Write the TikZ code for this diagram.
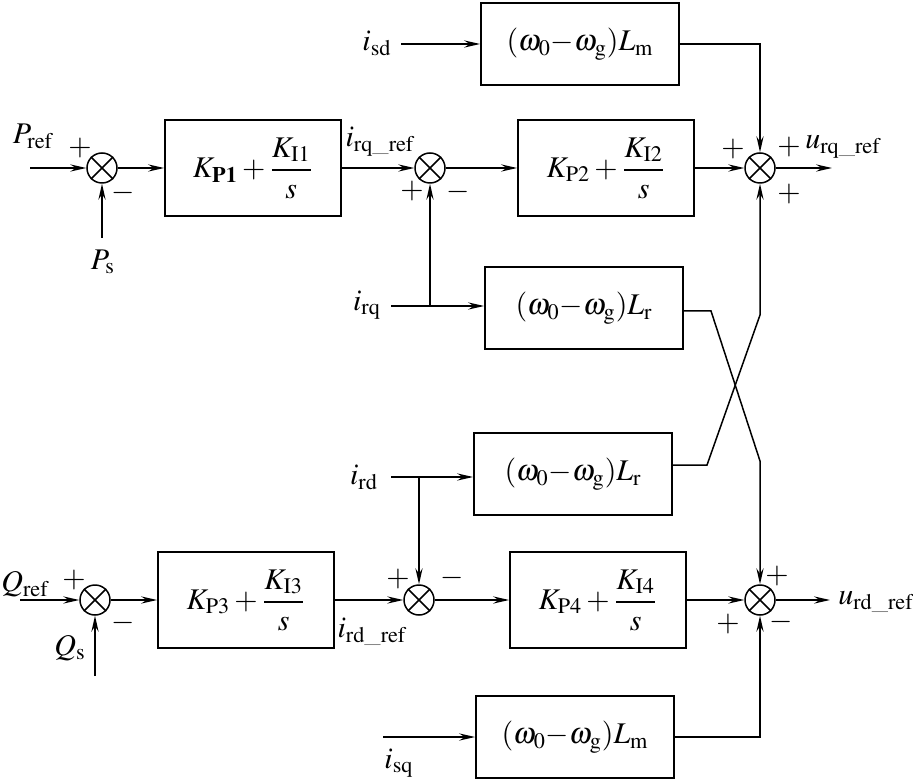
\documentclass[tikz,border=0pt]{standalone}
\usepackage{amsmath,mathptmx}
\usetikzlibrary{arrows.meta}

\begin{document}
\begin{tikzpicture}[x=0.5pt, y=0.5pt, line width=0.75pt,
    >={Stealth[length=8pt,width=3.6pt,inset=2.8pt]},
    font=\fontsize{15}{18}\selectfont,
    block/.style={draw, line width=0.9pt, minimum width=88pt, minimum height=48pt, inner sep=0pt},
    gain/.style={draw, line width=0.9pt, minimum width=99pt, minimum height=41pt, inner sep=0pt},
    sum/.style={draw, circle, minimum size=15pt, inner sep=0pt},
    sign/.style={inner sep=0pt},
    lbl/.style={inner sep=0pt}]
  \useasboundingbox (0,0) rectangle (913,782);

  % summing points
  \node[sum] (s1) at (102,614) {};
  \node[sum] (s2) at (430,614) {};
  \node[sum] (s3) at (760,614) {};
  \node[sum] (s4) at (95,182) {};
  \node[sum] (s5) at (419,182) {};
  \node[sum] (s6) at (760,182) {};
  \foreach \s in {s1,s2,s3,s4,s5,s6}
    \draw (\s.45) -- (\s.225) (\s.135) -- (\s.315);

  % controllers and cross-coupling gains
  \node[block] (pi1) at (253,614) {$K_{\mathbf{P1}}+\dfrac{K_{\mathrm{I1}}}{s}$};
  \node[block] (pi2) at (606,614) {$K_{\mathrm{P2}}+\dfrac{K_{\mathrm{I2}}}{s}$};
  \node[block] (pi3) at (246,182) {$K_{\mathrm{P3}}+\dfrac{K_{\mathrm{I3}}}{s}$};
  \node[block] (pi4) at (598,182) {$K_{\mathrm{P4}}+\dfrac{K_{\mathrm{I4}}}{s}$};
  \node[gain] (lm1) at (580,738) {$(\omega_0{-}\omega_{\mathrm{g}})L_{\mathrm{m}}$};
  \node[gain] (lr1) at (584,474) {$(\omega_0{-}\omega_{\mathrm{g}})L_{\mathrm{r}}$};
  \node[gain] (lr2) at (573,308) {$(\omega_0{-}\omega_{\mathrm{g}})L_{\mathrm{r}}$};
  \node[gain] (lm2) at (575,45) {$(\omega_0{-}\omega_{\mathrm{g}})L_{\mathrm{m}}$};

  % free ends and bends
  \coordinate (pref) at (30,614);
  \coordinate (ps) at (102,544);
  \coordinate (uq) at (832,614);
  \coordinate (isd) at (401,738);
  \coordinate (irq) at (391,476);
  \coordinate (jq) at (430,476);
  \coordinate (ird) at (391,305);
  \coordinate (jd) at (419,305);
  \coordinate (qref) at (20,182);
  \coordinate (qs) at (95,106);
  \coordinate (ud) at (830,182);
  \coordinate (isq) at (383,45);
  \coordinate (q1) at (711,471);
  \coordinate (q2) at (760,321);
  \coordinate (d1) at (707,317);
  \coordinate (d2) at (760,467);

  % q-axis loop
  \draw[->] (pref) -- (s1);
  \draw[->] (ps) -- (s1);
  \draw[->] (s1) -- (pi1);
  \draw[->] (pi1) -- (s2);
  \draw[->] (s2) -- (pi2);
  \draw[->] (pi2) -- (s3);
  \draw[->] (s3) -- (uq);
  \draw[->] (isd) -- (lm1);
  \draw[->] (lm1) -| (s3);
  \draw[->] (irq) -- (irq -| lr1.west);
  \draw[->] (jq) -- (s2);
  \draw[->] (lr1.east |- q1) -- (q1) -- (q2) -- (s6);

  % d-axis loop
  \draw[->] (ird) -- (ird -| lr2.west);
  \draw[->] (jd) -- (s5);
  \draw[->] (lr2.east |- d1) -- (d1) -- (d2) -- (s3);
  \draw[->] (qref) -- (s4);
  \draw[->] (qs) -- (s4);
  \draw[->] (s4) -- (pi3);
  \draw[->] (pi3) -- (s5);
  \draw[->] (s5) -- (pi4);
  \draw[->] (pi4) -- (s6);
  \draw[->] (s6) -- (ud);
  \draw[->] (isq) -- (lm2);
  \draw[->] (lm2) -| (s6);

  % signal labels
  \node[lbl] (lpref) at (33,646) {$P_{\mathrm{ref}}$};
  \node[lbl] (lps) at (103,520) {$P_{\mathrm{s}}$};
  \node[lbl] (lirqref) at (380,640) {$i_{\mathrm{rq\_ref}}$};
  \node[lbl] (lisd) at (377,739) {$i_{\mathrm{sd}}$};
  \node[lbl] (lirq) at (367,477) {$i_{\mathrm{rq}}$};
  \node[lbl] (lird) at (364,305) {$i_{\mathrm{rd}}$};
  \node[lbl] (lurq) at (843,635) {$u_{\mathrm{rq\_ref}}$};
  \node[lbl] (lqref) at (25,198) {$Q_{\mathrm{ref}}$};
  \node[lbl] (lqs) at (70,134) {$Q_{\mathrm{s}}$};
  \node[lbl] (lirdref) at (372,150) {$i_{\mathrm{rd\_ref}}$};
  \node[lbl] (lurd) at (876,180) {$u_{\mathrm{rd\_ref}}$};
  \node[lbl] (lisq) at (399,19) {$i_{\mathrm{sq}}$};

  % signs
  \node[sign] at (80,634) {$+$};
  \node[sign] at (123,589) {$-$};
  \node[sign] at (412,591) {$+$};
  \node[sign] at (458,590) {$-$};
  \node[sign] at (733,633) {$+$};
  \node[sign] at (789,635) {$+$};
  \node[sign] at (789,588) {$+$};
  \node[sign] at (74,202) {$+$};
  \node[sign] at (123,159) {$-$};
  \node[sign] at (398,203) {$+$};
  \node[sign] at (452,204) {$-$};
  \node[sign] at (777,206) {$+$};
  \node[sign] at (728,158) {$+$};
  \node[sign] at (781,160) {$-$};
\end{tikzpicture}
\end{document}
